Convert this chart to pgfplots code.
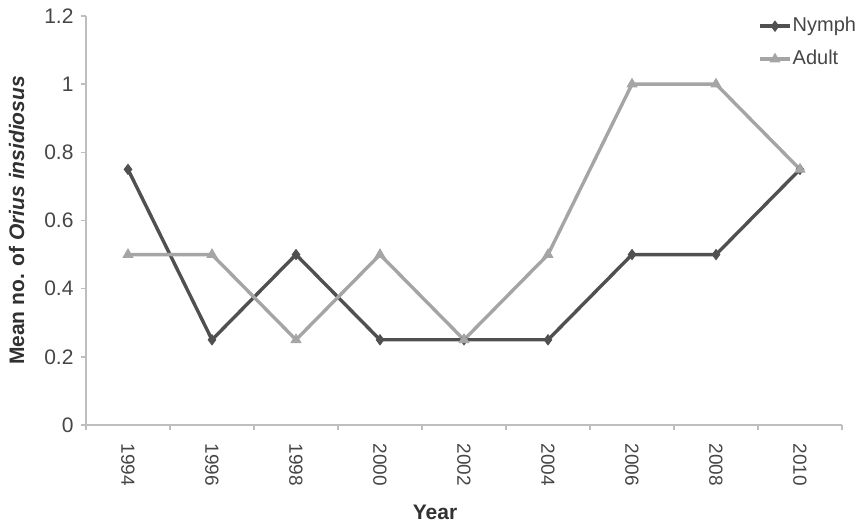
\documentclass[border=0pt]{standalone}
\usepackage{fontspec}
\setmainfont{Liberation Sans}
\usepackage{pgfplots}
\pgfplotsset{compat=1.18}
\definecolor{nymph}{RGB}{80,80,80}
\definecolor{adult}{RGB}{165,165,165}
\definecolor{axisgray}{RGB}{190,190,190}
\definecolor{textgray}{RGB}{70,70,70}

\begin{document}
\begin{tikzpicture}
\begin{axis}[
    width=756pt, height=409pt,
    scale only axis,
    xmin=0, xmax=9,
    ymin=0, ymax=1.2,
    axis x line*=bottom,
    axis y line*=left,
    axis line style={axisgray, line width=1.6pt},
    xtick={0.5,1.5,...,8.5},
    xticklabels={1994,1996,1998,2000,2002,2004,2006,2008,2010},
    x tick style={draw=none},
    x tick label style={yshift=-10pt, rotate=-90, anchor=west,
        font=\fontsize{19}{22}\selectfont, textgray},
    major tick length=5pt,
    tick align=outside,
    y tick style={axisgray, line width=1.4pt},
    ytick={0,0.2,...,1.2},
    yticklabels={0,0.2,0.4,0.6,0.8,1,1.2},
    y tick label style={font=\fontsize{21}{24}\selectfont, textgray, xshift=-4pt},
    /pgf/number format/assume math mode=true,
    xlabel={\textbf{Year}},
    xlabel style={font=\fontsize{21}{24}\selectfont, textgray!70!black,
        xshift=-29pt, yshift=-12pt},
    ylabel={\textbf{Mean no. of \textit{Orius insidiosus}}},
    ylabel style={font=\fontsize{21}{24}\selectfont, textgray!70!black, yshift=13pt},
    legend style={draw=none, fill=none, at={(0.889,1.0)}, anchor=north west,
        inner sep=0pt, row sep=13pt,
        nodes={inner sep=1pt, text height=14pt, text depth=4pt},
        font=\fontsize{20}{23}\selectfont, text=textgray},
    legend cell align=left,
    legend image code/.code={
        \draw[mark repeat=2, mark phase=2]
            plot coordinates {(0pt,0pt) (15pt,0pt) (30pt,0pt)};},
    clip=false,
]
\addplot[nymph, line width=3.4pt, mark=diamond*, mark size=5pt,
    mark options={line width=1pt}]
    coordinates {(0.5,0.75) (1.5,0.25) (2.5,0.5) (3.5,0.25) (4.5,0.25)
                 (5.5,0.25) (6.5,0.5) (7.5,0.5) (8.5,0.75)};
\addlegendentry{Nymph}
\addplot[adult, line width=3.4pt, mark=triangle*, mark size=5.5pt,
    mark options={line width=1pt}]
    coordinates {(0.5,0.5) (1.5,0.5) (2.5,0.25) (3.5,0.5) (4.5,0.25)
                 (5.5,0.5) (6.5,1) (7.5,1) (8.5,0.75)};
\addlegendentry{Adult}
% category boundary ticks below the x axis
\foreach \k in {0,...,9} {
    \edef\tmp{\noexpand\draw[axisgray, line width=1.4pt]
        (axis cs:\k,0) -- ++(0pt,-5pt);}
    \tmp
}
\end{axis}
\path ([shift={(-86pt,-102pt)}]current axis.south west)
    rectangle ([shift={(21pt,16pt)}]current axis.north east);
\end{tikzpicture}
\end{document}
